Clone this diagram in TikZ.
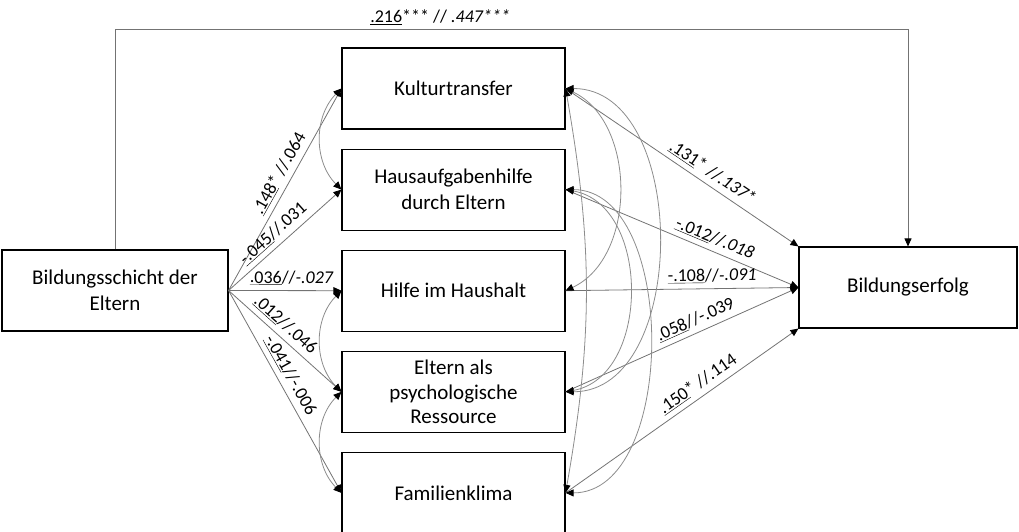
\documentclass[tikz,border=0pt]{standalone}
\usepackage{fontspec}
\setmainfont{Carlito}
\usetikzlibrary{positioning,arrows.meta}

\begin{document}
\begin{tikzpicture}[x=1pt,y=1pt,
    box/.style={rectangle, draw=black, line width=1.1pt, minimum width=223pt,
        minimum height=81pt, align=center, font=\fontsize{21}{26}\selectfont},
    effect/.style={draw=black!55, line width=0.8pt,
        -{Triangle[length=8pt,width=7pt,color=black]}},
    covar/.style={draw=black!45, line width=0.8pt,
        {Triangle[length=8pt,width=7pt,color=black]}-{Triangle[length=8pt,width=7pt,color=black]}},
    coef/.style={font=\fontsize{18}{20}\selectfont, sloped, above, inner sep=5pt}
]
\useasboundingbox (0,0) rectangle (1019,532);

% boxes
\node (SES) [box, minimum width=226pt] at (115,241.5) {Bildungsschicht der\\Eltern};
\node (Kultur) [box] at (453.5,443.5) {Kulturtransfer};
\node (Hausaufg) [box, below=19pt of Kultur] {Hausaufgabenhilfe\\durch Eltern};
\node (Haushalt) [box, below=19pt of Hausaufg] {Hilfe im Haushalt};
\node (Psych) [box, below=19pt of Haushalt, font=\fontsize{21}{24.5}\selectfont] {Eltern als\\psychologische\\Ressource};
\node (Klima) [box, below=19pt of Psych] {Familienklima};
\node (Erfolg) [box, minimum width=218pt] at (908,244.5) {Bildungserfolg};

% direct path
\coordinate (top) at (0,503);
\draw[effect] (SES.north) -- (SES.north |- top)
    -- node[pos=0.41, above, font=\fontsize{18}{20}\selectfont, inner sep=4pt]
       {\underline{.216}*** // \textit{.447***}} (Erfolg.north |- top) -- (Erfolg.north);

% left paths
\draw[effect] (SES.east) -- node[coef, pos=0.55] {\underline{.148}* //.064} (Kultur.west);
\draw[effect] (SES.east) -- node[coef, pos=0.47] {\underline{-.045}//.031} (Hausaufg.west);
\draw[effect] (SES.east) -- node[coef, pos=0.56] {\underline{.036}//\textit{-.027}} (Haushalt.west);
\draw[effect] (SES.east) -- node[coef, pos=0.43] {\underline{.012}//.046} (Psych.west);
\draw[effect] (SES.east) -- node[coef, pos=0.45] {\underline{-.041}//-.006} (Klima.west);

% right paths
\draw[effect] (Kultur.east) -- node[coef, pos=0.6] {\underline{.131}* //\textit{.137*}} (Erfolg.north west);
\draw[effect] (Hausaufg.east) -- node[coef, pos=0.62] {\underline{-.012}//\textit{.018}} (Erfolg.west);
\draw[effect] (Haushalt.east) -- node[coef, pos=0.63] {\underline{-.108}//\textit{-.091}} (Erfolg.west);
\draw[effect] (Psych.east) -- node[coef, pos=0.58] {\underline{.058}//-.039} (Erfolg.west);
\draw[effect] (Klima.east) -- node[coef, pos=0.6] {\underline{.150}* //.114} (Erfolg.south west);

% covariances
\draw[covar] (Kultur.west) to[bend right=45] (Hausaufg.west);
\draw[covar] (Haushalt.west) to[bend right=45] (Psych.west);
\draw[covar] (Psych.west) to[bend right=45] (Klima.west);
\draw[covar] (Kultur.east) to[bend left=65] (Haushalt.east);
\draw[covar] (Kultur.east) to[out=0, in=0, looseness=1.05] (Psych.east);
\draw[covar] (Kultur.east) to[bend left=10] (Klima.east);
\draw[covar] (Hausaufg.east) to[out=-10, in=10, looseness=1.1] (Psych.east);
\draw[covar] (Hausaufg.east) to[out=0, in=0, looseness=0.95] (Klima.east);
\end{tikzpicture}
\end{document}
